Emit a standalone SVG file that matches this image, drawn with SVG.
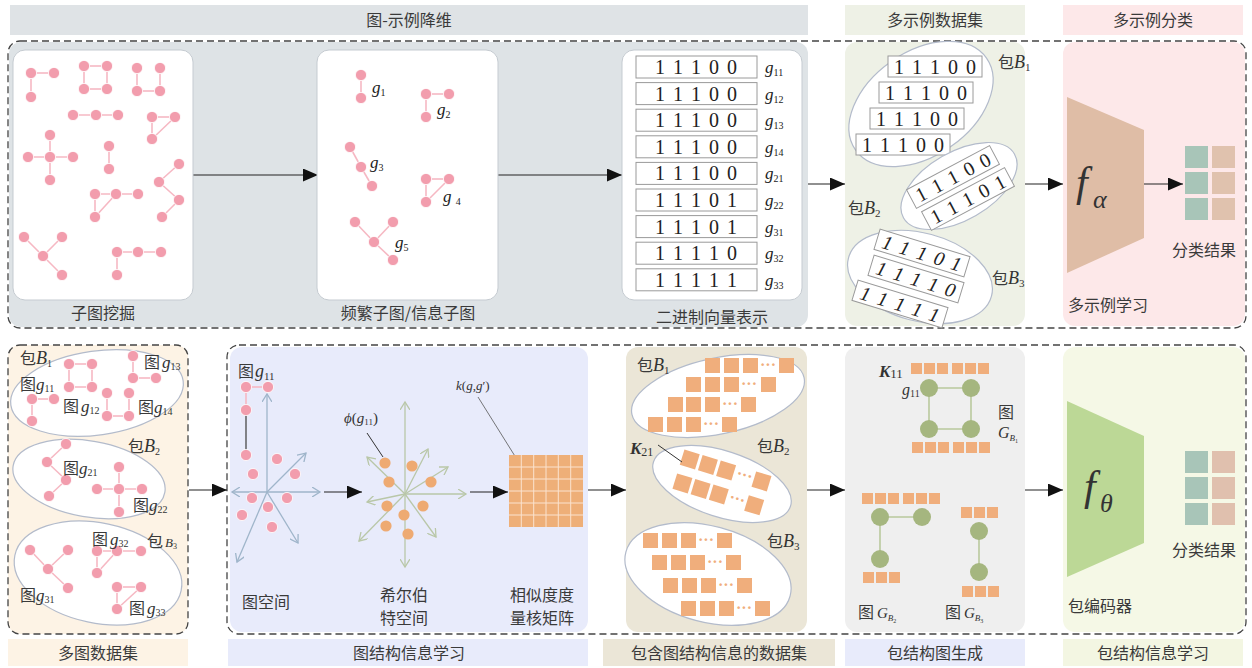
<svg xmlns="http://www.w3.org/2000/svg" width="1252" height="668" viewBox="0 0 1252 668">
<defs>
<style>
text{font-family:"Liberation Serif","Noto Sans CJK SC",serif;fill:#333}
.cn{font-family:"Noto Sans CJK SC",sans-serif;font-size:16px;fill:#3a3a3a}
.hd{font-family:"Noto Sans CJK SC",sans-serif;font-size:16px;fill:#3a3a3a;text-anchor:middle}
.it{font-style:italic}
.bin{font-size:20px;word-spacing:3px;text-anchor:middle;fill:#222}
.gl{font-size:17px;font-style:italic;fill:#222}
.sb{font-size:10px;font-style:normal}
.pk line{stroke:#f6b8c3;stroke-width:1.6}
.pk circle{fill:#f29dad;stroke:#fff;stroke-width:0.8}
.box{fill:#fff;stroke:#c5cbd1;stroke-width:1}
.row{fill:#fff;stroke:#9a9a9a;stroke-width:1}
.bag{fill:#fff;stroke:#b3bbcb;stroke-width:1.2}
.dash{fill:none;stroke:#444;stroke-width:1.3;stroke-dasharray:7 4}
.arr{stroke:#222;stroke-width:1.2;fill:none;marker-end:url(#ah)}
.sq rect{fill:#f0ae7c}
.dots{fill:#f0ae7c;font-size:16px;font-weight:bold}
.gr line{stroke:#b9c99d;stroke-width:1.6}
.gr circle{fill:#a5b67f}
.ax line{stroke:#9fb5ca;stroke-width:1.3;marker-end:url(#cb)}
.hx line{stroke:#b9c7a8;stroke-width:1.3;marker-end:url(#cg)}
</style>
<marker id="ah" markerWidth="15" markerHeight="13" refX="15" refY="6.5" orient="auto" markerUnits="userSpaceOnUse"><path d="M0,0 L15,6.5 L0,13 Z" fill="#111"/></marker>
<marker id="cb" markerWidth="10" markerHeight="10" refX="8" refY="5" orient="auto" markerUnits="userSpaceOnUse"><path d="M0,0 L8,5 L0,10" fill="none" stroke="#9fb5ca" stroke-width="1.3"/></marker>
<marker id="cg" markerWidth="10" markerHeight="10" refX="8" refY="5" orient="auto" markerUnits="userSpaceOnUse"><path d="M0,0 L8,5 L0,10" fill="none" stroke="#b9c7a8" stroke-width="1.3"/></marker>
</defs>

<!-- headers -->
<g id="headers">
<rect x="10" y="5" width="798" height="30" fill="#dfe3e6"/>
<text class="hd" x="409" y="26">图-示例降维</text>
<rect x="845" y="5" width="180" height="30" fill="#eef1e6"/>
<text class="hd" x="935" y="26">多示例数据集</text>
<rect x="1063" y="5" width="180" height="30" fill="#fde8e9"/>
<text class="hd" x="1153" y="26">多示例分类</text>
<rect x="8" y="639" width="180" height="27" fill="#fdf3e5"/>
<text class="hd" x="98" y="659">多图数据集</text>
<rect x="228" y="639" width="360" height="27" fill="#e8ebfb"/>
<text class="hd" x="409" y="659">图结构信息学习</text>
<rect x="603" y="639" width="232" height="27" fill="#ebe6d7"/>
<text class="hd" x="719" y="659">包含图结构信息的数据集</text>
<rect x="845" y="639" width="180" height="27" fill="#e8ebfb"/>
<text class="hd" x="935" y="659">包结构图生成</text>
<rect x="1063" y="639" width="180" height="27" fill="#f3f6e2"/>
<text class="hd" x="1153" y="659">包结构信息学习</text>
</g>

<!-- panels -->
<g id="panels">
<rect x="9" y="42" width="799" height="285" rx="12" fill="#dee3e6"/>
<rect x="845" y="42" width="180" height="284" rx="12" fill="#eef1e6"/>
<rect x="1063" y="42" width="182" height="284" rx="12" fill="#fde8e9"/>
<rect x="8" y="345" width="180" height="289" rx="12" fill="#fdf3e5"/>
<rect x="230" y="347" width="358" height="285" rx="12" fill="#e8ebfb"/>
<rect x="626" y="347" width="181" height="285" rx="12" fill="#ebe6d7"/>
<rect x="845" y="347" width="180" height="285" rx="12" fill="#efefef"/>
<rect x="1063" y="347" width="182" height="285" rx="12" fill="#f5f8e6"/>
<rect class="dash" x="8" y="41" width="1238" height="287" rx="12"/>
<rect class="dash" x="8" y="345" width="180" height="289" rx="12"/>
<rect class="dash" x="227" y="345" width="1019" height="289" rx="12"/>
</g>

<!-- connectors -->
<g id="connectors">
<line class="arr" x1="193" y1="175" x2="318" y2="175"/>
<line class="arr" x1="498" y1="175" x2="622" y2="175"/>
<line class="arr" x1="808" y1="184" x2="845" y2="184"/>
<line class="arr" x1="1025" y1="184" x2="1063" y2="184"/>
<line class="arr" x1="1144" y1="184" x2="1183" y2="184"/>
<line class="arr" x1="189" y1="490" x2="227" y2="490"/>
<line class="arr" x1="324" y1="492" x2="362" y2="492"/>
<line class="arr" x1="470" y1="492" x2="508" y2="492"/>
<line class="arr" x1="588" y1="490" x2="626" y2="490"/>
<line class="arr" x1="807" y1="490" x2="845" y2="490"/>
<line class="arr" x1="1025" y1="490" x2="1063" y2="490"/>
</g>

<!-- Subgraph mining -->
<g id="subgraph-mining">
<rect class="box" x="13" y="50" width="180" height="250" rx="12"/>
<g class="pk">
<line x1="31" y1="73" x2="54" y2="73"/><line x1="31" y1="73" x2="31" y2="97"/>
<line x1="84" y1="66" x2="107" y2="66"/><line x1="107" y1="66" x2="107" y2="89"/><line x1="107" y1="89" x2="84" y2="89"/><line x1="84" y1="89" x2="84" y2="66"/>
<line x1="137" y1="68" x2="137" y2="91"/><line x1="137" y1="91" x2="160" y2="91"/><line x1="160" y1="68" x2="160" y2="91"/>
<line x1="73" y1="115" x2="118" y2="115"/>
<line x1="152" y1="117" x2="175" y2="117"/><line x1="152" y1="117" x2="152" y2="139"/><line x1="175" y1="117" x2="152" y2="139"/>
<line x1="28" y1="157" x2="73" y2="157"/><line x1="50" y1="135" x2="50" y2="180"/>
<line x1="109" y1="146" x2="109" y2="169"/>
<line x1="179" y1="164" x2="159" y2="182"/><line x1="159" y1="182" x2="179" y2="200"/><line x1="179" y1="200" x2="162" y2="217"/>
<line x1="95" y1="194" x2="138" y2="194"/><line x1="95" y1="194" x2="95" y2="217"/><line x1="116" y1="194" x2="95" y2="217"/>
<line x1="24" y1="237" x2="43" y2="256"/><line x1="62" y1="237" x2="43" y2="256"/><line x1="43" y1="256" x2="62" y2="275"/>
<line x1="117" y1="252" x2="161" y2="252"/><line x1="117" y1="252" x2="117" y2="275"/>
<circle cx="31" cy="73" r="5.6"/><circle cx="54" cy="73" r="5.6"/><circle cx="31" cy="97" r="5.6"/>
<circle cx="84" cy="66" r="5.6"/><circle cx="107" cy="66" r="5.6"/><circle cx="84" cy="89" r="5.6"/><circle cx="107" cy="89" r="5.6"/>
<circle cx="137" cy="68" r="5.6"/><circle cx="160" cy="68" r="5.6"/><circle cx="137" cy="91" r="5.6"/><circle cx="160" cy="91" r="5.6"/>
<circle cx="73" cy="115" r="5.6"/><circle cx="96" cy="115" r="5.6"/><circle cx="118" cy="115" r="5.6"/>
<circle cx="152" cy="117" r="5.6"/><circle cx="175" cy="117" r="5.6"/><circle cx="152" cy="139" r="5.6"/>
<circle cx="50" cy="135" r="5.6"/><circle cx="28" cy="157" r="5.6"/><circle cx="50" cy="157" r="5.6"/><circle cx="73" cy="157" r="5.6"/><circle cx="50" cy="180" r="5.6"/>
<circle cx="109" cy="146" r="5.6"/><circle cx="109" cy="169" r="5.6"/>
<circle cx="179" cy="164" r="5.6"/><circle cx="159" cy="182" r="5.6"/><circle cx="179" cy="200" r="5.6"/><circle cx="162" cy="217" r="5.6"/>
<circle cx="95" cy="194" r="5.6"/><circle cx="116" cy="194" r="5.6"/><circle cx="138" cy="194" r="5.6"/><circle cx="95" cy="217" r="5.6"/>
<circle cx="24" cy="237" r="5.6"/><circle cx="62" cy="237" r="5.6"/><circle cx="43" cy="256" r="5.6"/><circle cx="62" cy="275" r="5.6"/>
<circle cx="117" cy="252" r="5.6"/><circle cx="138" cy="252" r="5.6"/><circle cx="161" cy="252" r="5.6"/><circle cx="117" cy="275" r="5.6"/>
</g>
<text class="cn" x="103" y="319" text-anchor="middle" font-size="17">子图挖掘</text>
</g>

<!-- Frequent subgraphs -->
<g id="frequent-subgraphs">
<rect class="box" x="317" y="50" width="181" height="250" rx="12"/>
<g class="pk">
<line x1="361" y1="75" x2="361" y2="98"/>
<line x1="426" y1="94" x2="449" y2="94"/><line x1="426" y1="94" x2="426" y2="117"/>
<line x1="350" y1="147" x2="361" y2="167"/><line x1="361" y1="167" x2="372" y2="186"/>
<line x1="426" y1="179" x2="449" y2="179"/><line x1="426" y1="179" x2="426" y2="202"/><line x1="449" y1="179" x2="426" y2="202"/>
<line x1="355" y1="222" x2="374" y2="242"/><line x1="393" y1="222" x2="374" y2="242"/><line x1="374" y1="242" x2="393" y2="260"/>
<circle cx="361" cy="75" r="5.6"/><circle cx="361" cy="98" r="5.6"/>
<circle cx="426" cy="94" r="5.6"/><circle cx="449" cy="94" r="5.6"/><circle cx="426" cy="117" r="5.6"/>
<circle cx="350" cy="147" r="5.6"/><circle cx="361" cy="167" r="5.6"/><circle cx="372" cy="186" r="5.6"/>
<circle cx="426" cy="179" r="5.6"/><circle cx="449" cy="179" r="5.6"/><circle cx="426" cy="202" r="5.6"/>
<circle cx="355" cy="222" r="5.6"/><circle cx="393" cy="222" r="5.6"/><circle cx="374" cy="242" r="5.6"/><circle cx="393" cy="260" r="5.6"/>
</g>
<text class="gl" x="372" y="93">g<tspan class="sb" dy="3">1</tspan></text>
<text class="gl" x="437" y="115">g<tspan class="sb" dy="3">2</tspan></text>
<text class="gl" x="370" y="168">g<tspan class="sb" dy="3">3</tspan></text>
<text class="gl" x="443" y="202">g <tspan class="sb" dy="3">4</tspan></text>
<text class="gl" x="395" y="248">g<tspan class="sb" dy="3">5</tspan></text>
<text class="cn" x="408" y="319" text-anchor="middle" font-size="17">频繁子图/信息子图</text>
</g>

<!-- Binary vectors -->
<g id="binary-vectors">
<rect class="box" x="622" y="50" width="180" height="250" rx="12"/>
<rect class="row" x="636" y="56" width="121" height="22"/><text class="bin" x="696" y="74">1 1 1 0 0</text><text class="gl" x="765" y="73">g<tspan class="sb" dy="3">11</tspan></text>
<rect class="row" x="636" y="82.6" width="121" height="22"/><text class="bin" x="696" y="100.6">1 1 1 0 0</text><text class="gl" x="765" y="99.6">g<tspan class="sb" dy="3">12</tspan></text>
<rect class="row" x="636" y="109.2" width="121" height="22"/><text class="bin" x="696" y="127.2">1 1 1 0 0</text><text class="gl" x="765" y="126.2">g<tspan class="sb" dy="3">13</tspan></text>
<rect class="row" x="636" y="135.8" width="121" height="22"/><text class="bin" x="696" y="153.8">1 1 1 0 0</text><text class="gl" x="765" y="152.8">g<tspan class="sb" dy="3">14</tspan></text>
<rect class="row" x="636" y="162.4" width="121" height="22"/><text class="bin" x="696" y="180.4">1 1 1 0 0</text><text class="gl" x="765" y="179.4">g<tspan class="sb" dy="3">21</tspan></text>
<rect class="row" x="636" y="189" width="121" height="22"/><text class="bin" x="696" y="207">1 1 1 0 1</text><text class="gl" x="765" y="206">g<tspan class="sb" dy="3">22</tspan></text>
<rect class="row" x="636" y="215.6" width="121" height="22"/><text class="bin" x="696" y="233.6">1 1 1 0 1</text><text class="gl" x="765" y="232.6">g<tspan class="sb" dy="3">31</tspan></text>
<rect class="row" x="636" y="242.2" width="121" height="22"/><text class="bin" x="696" y="260.2">1 1 1 1 0</text><text class="gl" x="765" y="259.2">g<tspan class="sb" dy="3">32</tspan></text>
<rect class="row" x="636" y="268.8" width="121" height="22"/><text class="bin" x="696" y="286.8">1 1 1 1 1</text><text class="gl" x="765" y="285.8">g<tspan class="sb" dy="3">33</tspan></text>
<text class="cn" x="712" y="323" text-anchor="middle" font-size="17">二进制向量表示</text>
</g>

<!-- Multi-instance dataset -->
<g id="mi-dataset">
<ellipse class="bag" cx="921" cy="104" rx="80" ry="52" transform="rotate(-35 921 104)"/>
<rect class="row" x="888" y="56" width="94" height="21"/><text class="bin" x="935" y="74">1 1 1 0 0</text>
<rect class="row" x="879" y="82" width="94" height="21"/><text class="bin" x="926" y="100">1 1 1 0 0</text>
<rect class="row" x="870" y="108" width="94" height="21"/><text class="bin" x="917" y="126">1 1 1 0 0</text>
<rect class="row" x="856" y="134" width="94" height="21"/><text class="bin" x="903" y="152">1 1 1 0 0</text>
<text x="998" y="68"><tspan class="cn">包</tspan><tspan class="it" font-size="18">B</tspan><tspan font-size="11" dy="3">1</tspan></text>
<ellipse class="bag" cx="959" cy="186" rx="64" ry="34" transform="rotate(-30 959 186)"/>
<g transform="rotate(-28 953 177)"><rect class="row" x="906" y="166.5" width="94" height="21"/><text class="bin" x="953" y="184">1 1 1 0 0</text></g>
<g transform="rotate(-28 968 199)"><rect class="row" x="921" y="188.5" width="94" height="21"/><text class="bin" x="968" y="206">1 1 1 0 1</text></g>
<text x="848" y="214"><tspan class="cn">包</tspan><tspan class="it" font-size="18">B</tspan><tspan font-size="11" dy="3">2</tspan></text>
<ellipse class="bag" cx="920" cy="277" rx="74" ry="44" transform="rotate(15 920 277)"/>
<g transform="rotate(17 922 253)"><rect class="row" x="875" y="242.5" width="94" height="21"/><text class="bin it" x="922" y="260">1 1 1 0 1</text></g>
<g transform="rotate(17 916 279)"><rect class="row" x="869" y="268.5" width="94" height="21"/><text class="bin it" x="916" y="286">1 1 1 1 0</text></g>
<g transform="rotate(17 900 304)"><rect class="row" x="853" y="293.5" width="94" height="21"/><text class="bin it" x="900" y="311">1 1 1 1 1</text></g>
<text x="992" y="284"><tspan class="cn">包</tspan><tspan class="it" font-size="18">B</tspan><tspan font-size="11" dy="3">3</tspan></text>
</g>

<!-- Multi-instance classification -->
<g id="mi-classification">
<polygon points="1067,97 1144,130 1144,238 1067,273" fill="#dfbda6"/>
<text x="1076" y="196" font-size="42" class="it" fill="#111">f</text>
<text x="1093" y="208" font-size="26" class="it" fill="#111">α</text>
<rect x="1185" y="146" width="23" height="22" fill="#a8c5b8"/><rect x="1212" y="146" width="23" height="22" fill="#e0c2ae"/>
<rect x="1185" y="172" width="23" height="22" fill="#a8c5b8"/><rect x="1212" y="172" width="23" height="22" fill="#e0c2ae"/>
<rect x="1185" y="198" width="23" height="22" fill="#a8c5b8"/><rect x="1212" y="198" width="23" height="22" fill="#e0c2ae"/>
<text class="cn" x="1172" y="256">分类结果</text>
<text class="cn" x="1068" y="311">多示例学习</text>
</g>

<!-- Multi-graph dataset -->
<g id="multi-graph-dataset">
<ellipse class="bag" cx="97" cy="393" rx="87" ry="42" transform="rotate(-8 97 393)"/>
<ellipse class="bag" cx="89" cy="479" rx="77" ry="38" transform="rotate(10 89 479)"/>
<ellipse class="bag" cx="98" cy="573" rx="85" ry="50" transform="rotate(12 98 573)"/>
<g class="pk">
<line x1="32" y1="399" x2="54" y2="399"/><line x1="32" y1="399" x2="32" y2="421"/>
<line x1="69" y1="364" x2="92" y2="364"/><line x1="92" y1="364" x2="92" y2="387"/><line x1="92" y1="387" x2="69" y2="387"/><line x1="69" y1="387" x2="69" y2="364"/>
<line x1="107" y1="393" x2="107" y2="416"/><line x1="107" y1="416" x2="129" y2="416"/><line x1="129" y1="393" x2="129" y2="416"/>
<line x1="133" y1="356" x2="133" y2="378"/><line x1="133" y1="378" x2="156" y2="378"/>
<line x1="66" y1="444" x2="47" y2="462"/><line x1="47" y1="462" x2="66" y2="480"/><line x1="66" y1="480" x2="49" y2="496"/>
<line x1="97" y1="489" x2="142" y2="489"/><line x1="119" y1="467" x2="119" y2="512"/>
<line x1="30" y1="550" x2="48" y2="569"/><line x1="68" y1="550" x2="48" y2="569"/><line x1="48" y1="569" x2="68" y2="588"/>
<line x1="97" y1="551" x2="141" y2="551"/><line x1="97" y1="551" x2="97" y2="573"/><line x1="117" y1="551" x2="97" y2="573"/>
<line x1="117" y1="587" x2="141" y2="587"/><line x1="117" y1="587" x2="117" y2="609"/><line x1="141" y1="587" x2="117" y2="609"/>
<circle cx="32" cy="399" r="5.6"/><circle cx="54" cy="399" r="5.6"/><circle cx="32" cy="421" r="5.6"/>
<circle cx="69" cy="364" r="5.6"/><circle cx="92" cy="364" r="5.6"/><circle cx="69" cy="387" r="5.6"/><circle cx="92" cy="387" r="5.6"/>
<circle cx="107" cy="393" r="5.6"/><circle cx="129" cy="393" r="5.6"/><circle cx="107" cy="416" r="5.6"/><circle cx="129" cy="416" r="5.6"/>
<circle cx="133" cy="356" r="5.6"/><circle cx="133" cy="378" r="5.6"/><circle cx="156" cy="378" r="5.6"/>
<circle cx="66" cy="444" r="5.6"/><circle cx="47" cy="462" r="5.6"/><circle cx="66" cy="480" r="5.6"/><circle cx="49" cy="496" r="5.6"/>
<circle cx="119" cy="467" r="5.6"/><circle cx="97" cy="489" r="5.6"/><circle cx="119" cy="489" r="5.6"/><circle cx="142" cy="489" r="5.6"/><circle cx="119" cy="512" r="5.6"/>
<circle cx="30" cy="550" r="5.6"/><circle cx="68" cy="550" r="5.6"/><circle cx="48" cy="569" r="5.6"/><circle cx="68" cy="588" r="5.6"/>
<circle cx="97" cy="551" r="5.6"/><circle cx="117" cy="551" r="5.6"/><circle cx="141" cy="551" r="5.6"/><circle cx="97" cy="573" r="5.6"/>
<circle cx="117" cy="587" r="5.6"/><circle cx="141" cy="587" r="5.6"/><circle cx="117" cy="609" r="5.6"/>
</g>
<text x="20" y="364"><tspan class="cn">包</tspan><tspan class="it" font-size="18">B</tspan><tspan font-size="10" dy="3">1</tspan></text>
<text x="20" y="390"><tspan class="cn">图</tspan><tspan class="it" font-size="17">g</tspan><tspan font-size="10" dy="2">11</tspan></text>
<text x="63" y="412"><tspan class="cn">图</tspan><tspan class="it" font-size="17" dx="2">g</tspan><tspan font-size="10" dy="2">12</tspan></text>
<text x="144" y="368"><tspan class="cn">图</tspan><tspan class="it" font-size="17" dx="2">g</tspan><tspan font-size="10" dy="2">13</tspan></text>
<text x="138" y="413"><tspan class="cn">图</tspan><tspan class="it" font-size="17">g</tspan><tspan font-size="10" dy="2">14</tspan></text>
<text x="128" y="452"><tspan class="cn">包</tspan><tspan class="it" font-size="18">B</tspan><tspan font-size="10" dy="3">2</tspan></text>
<text x="63" y="474"><tspan class="cn">图</tspan><tspan class="it" font-size="17">g</tspan><tspan font-size="10" dy="2">21</tspan></text>
<text x="133" y="511"><tspan class="cn">图</tspan><tspan class="it" font-size="17">g</tspan><tspan font-size="10" dy="2">22</tspan></text>
<text x="92" y="545"><tspan class="cn">图</tspan><tspan class="it" font-size="17" dx="2">g</tspan><tspan font-size="10" dy="2">32</tspan></text>
<text x="147" y="547"><tspan class="cn">包</tspan><tspan class="it" font-size="13" dx="2">B</tspan><tspan font-size="8" dy="2">3</tspan></text>
<text x="20" y="601"><tspan class="cn">图</tspan><tspan class="it" font-size="17">g</tspan><tspan font-size="10" dy="2">31</tspan></text>
<text x="129" y="614"><tspan class="cn">图</tspan><tspan class="it" font-size="17" dx="2">g</tspan><tspan font-size="10" dy="2">33</tspan></text>
</g>

<!-- Graph structure learning -->
<g id="graph-structure-learning">
<text x="238" y="377"><tspan class="cn">图</tspan><tspan class="it" font-size="18" dx="1">g</tspan><tspan font-size="11" dy="3">11</tspan></text>
<g class="ax">
<line x1="267" y1="492" x2="267" y2="394"/>
<line x1="267" y1="492" x2="320" y2="492"/>
<line x1="267" y1="492" x2="232" y2="492"/>
<line x1="267" y1="492" x2="306" y2="453"/>
<line x1="267" y1="492" x2="298" y2="543"/>
<line x1="267" y1="492" x2="237" y2="562"/>
</g>
<line x1="246" y1="410" x2="246" y2="455" stroke="#555" stroke-width="1.4"/>
<g class="pk">
<line x1="246" y1="387" x2="268" y2="387"/><line x1="246" y1="387" x2="246" y2="410"/>
<circle cx="246" cy="387" r="5.6"/><circle cx="268" cy="387" r="5.6"/><circle cx="246" cy="410" r="5.6"/><circle cx="246" cy="455" r="5.6"/>
<circle cx="277" cy="459" r="5.6"/><circle cx="253" cy="474" r="5.6"/><circle cx="295" cy="474" r="5.6"/>
<circle cx="252" cy="498" r="5.6"/><circle cx="287" cy="498" r="5.6"/><circle cx="268" cy="507" r="5.6"/>
<circle cx="242" cy="515" r="5.6"/><circle cx="272" cy="527" r="5.6"/>
</g>
<g class="hx">
<line x1="405" y1="494" x2="405" y2="402"/>
<line x1="405" y1="494" x2="405" y2="567"/>
<line x1="405" y1="494" x2="466" y2="494"/>
<line x1="405" y1="494" x2="367" y2="457"/>
<line x1="405" y1="494" x2="428" y2="449"/>
<line x1="405" y1="494" x2="448" y2="467"/>
<line x1="405" y1="494" x2="436" y2="537"/>
<line x1="405" y1="494" x2="359" y2="541"/>
<line x1="405" y1="494" x2="367" y2="502"/>
</g>
<g fill="#eeaa72">
<circle cx="385" cy="463" r="5.6"/><circle cx="412" cy="466" r="5.6"/><circle cx="389" cy="482" r="5.6"/>
<circle cx="431" cy="482" r="5.6"/><circle cx="387" cy="506" r="5.6"/><circle cx="423" cy="506" r="5.6"/>
<circle cx="404" cy="515" r="5.6"/><circle cx="386" cy="526" r="5.6"/><circle cx="408" cy="534" r="5.6"/>
</g>
<line x1="367" y1="433" x2="383" y2="457" stroke="#333" stroke-width="1"/>
<text x="344" y="423" font-size="15"><tspan class="it">ϕ</tspan>(<tspan class="it">g</tspan><tspan font-size="9" dy="2">11</tspan><tspan dy="-2">)</tspan></text>
<line x1="478" y1="397" x2="518" y2="461" stroke="#555" stroke-width="0.8"/>
<text x="456" y="390" font-size="13"><tspan class="it">k</tspan>(<tspan class="it">g</tspan>,<tspan class="it">g</tspan>′)</text>
<rect x="509" y="455" width="74" height="72" fill="#eeaf78"/>
<g stroke="#fbe3cf" stroke-width="1">
<line x1="521.3" y1="455" x2="521.3" y2="527"/><line x1="533.7" y1="455" x2="533.7" y2="527"/><line x1="546" y1="455" x2="546" y2="527"/><line x1="558.3" y1="455" x2="558.3" y2="527"/><line x1="570.7" y1="455" x2="570.7" y2="527"/>
<line x1="509" y1="467" x2="583" y2="467"/><line x1="509" y1="479" x2="583" y2="479"/><line x1="509" y1="491" x2="583" y2="491"/><line x1="509" y1="503" x2="583" y2="503"/><line x1="509" y1="515" x2="583" y2="515"/>
</g>
<text class="cn" x="242" y="608" font-size="17">图空间</text>
<text class="cn" x="404" y="601" font-size="17" text-anchor="middle">希尔伯</text>
<text class="cn" x="404" y="624" font-size="17" text-anchor="middle">特空间</text>
<text class="cn" x="542" y="601" font-size="17" text-anchor="middle">相似度度</text>
<text class="cn" x="542" y="624" font-size="17" text-anchor="middle">量核矩阵</text>
</g>

<!-- Dataset with graph structure info -->
<g id="graph-info-dataset">
<ellipse class="bag" cx="718" cy="396" rx="88" ry="38" transform="rotate(-12 718 396)"/>
<ellipse class="bag" cx="722" cy="484" rx="72" ry="33" transform="rotate(18 722 484)"/>
<ellipse class="bag" cx="708" cy="574" rx="85" ry="48" transform="rotate(15 708 574)"/>
<g class="sq">
<rect x="705" y="358" width="15" height="15"/><rect x="724" y="358" width="15" height="15"/><rect x="743" y="358" width="15" height="15"/><rect x="779" y="358" width="15" height="15"/>
<rect x="686" y="377" width="15" height="15"/><rect x="705" y="377" width="15" height="15"/><rect x="724" y="377" width="15" height="15"/><rect x="761" y="377" width="15" height="15"/>
<rect x="668" y="397" width="15" height="15"/><rect x="686" y="397" width="15" height="15"/><rect x="705" y="397" width="15" height="15"/><rect x="741" y="397" width="15" height="15"/>
<rect x="648" y="417" width="15" height="15"/><rect x="667" y="417" width="15" height="15"/><rect x="686" y="417" width="15" height="15"/><rect x="722" y="417" width="15" height="15"/>
<rect x="643" y="533" width="15" height="15"/><rect x="662" y="533" width="15" height="15"/><rect x="681" y="533" width="15" height="15"/><rect x="717" y="533" width="15" height="15"/>
<rect x="652" y="555" width="15" height="15"/><rect x="671" y="555" width="15" height="15"/><rect x="690" y="555" width="15" height="15"/><rect x="726" y="555" width="15" height="15"/>
<rect x="663" y="578" width="15" height="15"/><rect x="682" y="578" width="15" height="15"/><rect x="701" y="578" width="15" height="15"/><rect x="737" y="578" width="15" height="15"/>
<rect x="681" y="601" width="15" height="15"/><rect x="700" y="601" width="15" height="15"/><rect x="719" y="601" width="15" height="15"/><rect x="755" y="601" width="15" height="15"/>
<g transform="rotate(17 722 484)">
<rect x="676" y="462" width="16" height="16"/><rect x="695" y="462" width="16" height="16"/><rect x="714" y="462" width="16" height="16"/><rect x="751" y="462" width="16" height="16"/>
<rect x="676" y="487" width="16" height="16"/><rect x="695" y="487" width="16" height="16"/><rect x="714" y="487" width="16" height="16"/><rect x="751" y="487" width="16" height="16"/>
<text class="dots" x="733" y="474">···</text>
<text class="dots" x="733" y="499">···</text>
</g>
</g>
<text class="dots" x="760" y="370">···</text>
<text class="dots" x="741" y="389">···</text>
<text class="dots" x="722" y="409">···</text>
<text class="dots" x="703" y="429">···</text>
<text class="dots" x="698" y="545">···</text>
<text class="dots" x="707" y="567">···</text>
<text class="dots" x="718" y="590">···</text>
<text class="dots" x="736" y="613">···</text>
<text x="637" y="371"><tspan class="cn">包</tspan><tspan class="it" font-size="18">B</tspan><tspan font-size="11" dy="3">1</tspan></text>
<text x="757" y="452"><tspan class="cn">包</tspan><tspan class="it" font-size="18">B</tspan><tspan font-size="11" dy="3">2</tspan></text>
<text x="767" y="547"><tspan class="cn">包</tspan><tspan class="it" font-size="18">B</tspan><tspan font-size="11" dy="3">3</tspan></text>
<text x="630" y="454"><tspan class="it" font-weight="bold" font-size="17">K</tspan><tspan font-size="12" dy="2">21</tspan></text>
<line x1="658" y1="445" x2="682" y2="462" stroke="#333" stroke-width="1"/>
</g>

<!-- Bag structure graph generation -->
<g id="bag-graph-generation">
<g class="sq">
<rect x="911" y="363" width="11" height="11"/><rect x="924" y="363" width="11" height="11"/><rect x="937" y="363" width="11" height="11"/><rect x="952" y="363" width="11" height="11"/><rect x="965" y="363" width="11" height="11"/><rect x="978" y="363" width="11" height="11"/>
<rect x="912" y="442" width="11" height="11"/><rect x="925" y="442" width="11" height="11"/><rect x="938" y="442" width="11" height="11"/><rect x="953" y="442" width="11" height="11"/><rect x="966" y="442" width="11" height="11"/><rect x="979" y="442" width="11" height="11"/>
<rect x="862" y="493" width="11" height="11"/><rect x="875" y="493" width="11" height="11"/><rect x="888" y="493" width="11" height="11"/><rect x="903" y="493" width="11" height="11"/><rect x="916" y="493" width="11" height="11"/><rect x="929" y="493" width="11" height="11"/>
<rect x="863" y="572" width="11" height="11"/><rect x="876" y="572" width="11" height="11"/><rect x="889" y="572" width="11" height="11"/>
<rect x="961" y="507" width="11" height="11"/><rect x="974" y="507" width="11" height="11"/><rect x="987" y="507" width="11" height="11"/>
<rect x="962" y="586" width="11" height="11"/><rect x="975" y="586" width="11" height="11"/><rect x="988" y="586" width="11" height="11"/>
</g>
<g class="gr">
<line x1="929" y1="388" x2="971" y2="388"/><line x1="971" y1="388" x2="971" y2="429"/><line x1="971" y1="429" x2="929" y2="429"/><line x1="929" y1="429" x2="929" y2="388"/>
<line x1="880" y1="517" x2="922" y2="517"/><line x1="880" y1="517" x2="880" y2="559"/>
<line x1="979" y1="531" x2="979" y2="572"/>
<circle cx="929" cy="388" r="9"/><circle cx="971" cy="388" r="9"/><circle cx="929" cy="429" r="9"/><circle cx="971" cy="429" r="9"/>
<circle cx="880" cy="517" r="9"/><circle cx="922" cy="517" r="9"/><circle cx="880" cy="559" r="9"/>
<circle cx="979" cy="531" r="9"/><circle cx="979" cy="572" r="9"/>
</g>
<text x="879" y="377"><tspan class="it" font-weight="bold" font-size="17">K</tspan><tspan font-size="13" dy="1">11</tspan></text>
<text x="902" y="395"><tspan class="it" font-size="16">g</tspan><tspan font-size="10" dy="2">11</tspan></text>
<text class="cn" x="998" y="418">图</text>
<text x="998" y="438"><tspan class="it" font-size="16">G</tspan><tspan class="it" font-size="9" dy="3">B</tspan><tspan font-size="6" dy="2">1</tspan></text>
<text x="858" y="618"><tspan class="cn">图</tspan><tspan class="it" font-size="15" dx="3">G</tspan><tspan class="it" font-size="9" dy="3">B</tspan><tspan font-size="6" dy="2">2</tspan></text>
<text x="945" y="618"><tspan class="cn">图</tspan><tspan class="it" font-size="15" dx="3">G</tspan><tspan class="it" font-size="9" dy="3">B</tspan><tspan font-size="6" dy="2">3</tspan></text>
</g>

<!-- Bag structure information learning -->
<g id="bag-structure-learning">
<polygon points="1067,401 1144,436 1144,543 1067,577" fill="#bcd896"/>
<text x="1084" y="500" font-size="42" class="it" fill="#111">f</text>
<text x="1100" y="512" font-size="26" class="it" fill="#111">θ</text>
<rect x="1185" y="451" width="23" height="22" fill="#a8c5b8"/><rect x="1212" y="451" width="23" height="22" fill="#e0c0ae"/>
<rect x="1185" y="477" width="23" height="22" fill="#a8c5b8"/><rect x="1212" y="477" width="23" height="22" fill="#e0c0ae"/>
<rect x="1185" y="503" width="23" height="22" fill="#a8c5b8"/><rect x="1212" y="503" width="23" height="22" fill="#e0c0ae"/>
<text class="cn" x="1172" y="556">分类结果</text>
<text class="cn" x="1068" y="612">包编码器</text>
</g>
</svg>
